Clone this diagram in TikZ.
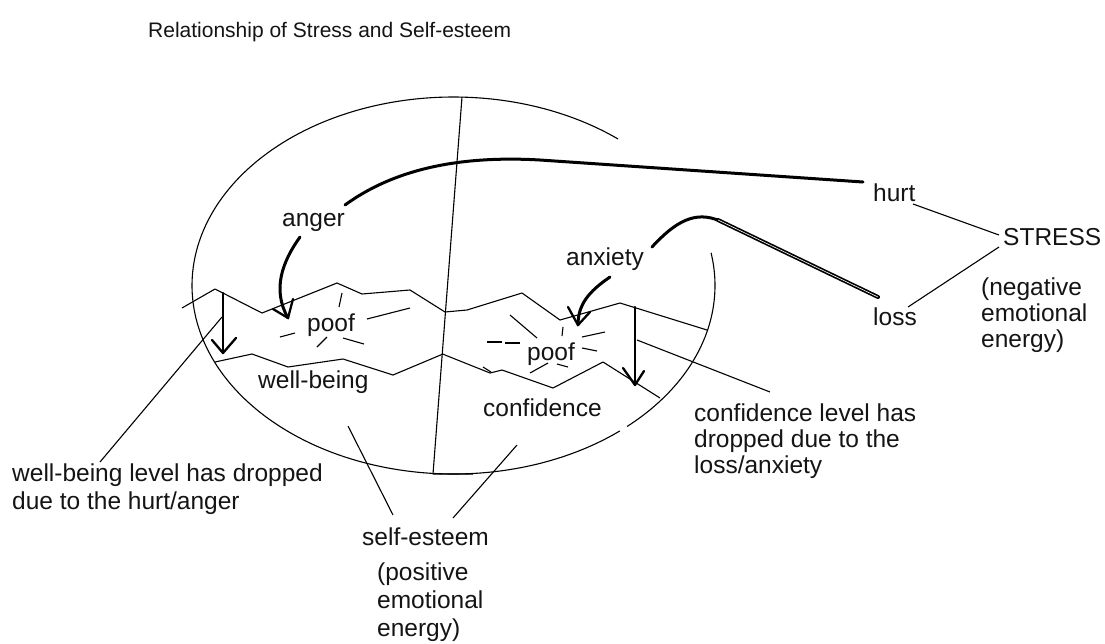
\documentclass[tikz,border=0pt]{standalone}
\usepackage{fontspec}
\setmainfont{Liberation Sans}
\begin{document}
\tikzset{
  thinline/.style={line width=1.1pt, line join=round},
  thickcurve/.style={line width=3pt, line cap=round, line join=round},
  arrowstroke/.style={line width=2.3pt, line cap=round, line join=round},
  lbl/.style={anchor=base west, inner sep=0pt, text=black!92, font=\fontsize{24.5}{26}\selectfont},
}
\begin{tikzpicture}[x=1pt,y=-1pt]
\useasboundingbox (0,0) rectangle (1105,643);

% ---------- labels ----------
\node[lbl, font=\fontsize{21}{24}\selectfont] (title) at (148,37) {Relationship of Stress and Self-esteem};
\node[lbl] (anger) at (282,226) {anger};
\node[lbl] (hurt) at (873,201) {hurt};
\node[lbl] (stress) at (1003,245) {STRESS};
\node[lbl] (neg1) at (981,295) {(negative};
\node[lbl] (neg2) at (981,321) {emotional};
\node[lbl] (neg3) at (981,347) {energy)};
\node[lbl] (loss) at (873,325) {loss};
\node[lbl] (anxiety) at (566,265) {anxiety};
\node[lbl] (poofL) at (307,331) {poof};
\node[lbl] (poofR) at (527,360) {poof};
\node[lbl] (wellbeing) at (258,388) {well-being};
\node[lbl] (confidence) at (483,416) {confidence};
\node[lbl] (conf1) at (694,421) {confidence level has};
\node[lbl] (conf2) at (694,447) {dropped due to the};
\node[lbl] (conf3) at (694,473) {loss/anxiety};
\node[lbl] (wb1) at (12,481) {well-being level has dropped};
\node[lbl] (wb2) at (12,509) {due to the hurt/anger};
\node[lbl] (selfesteem) at (362,545) {self-esteem};
\node[lbl] (pos1) at (377,580) {(positive};
\node[lbl] (pos2) at (377,608) {emotional};
\node[lbl] (pos3) at (377,636) {energy)};

% ---------- ellipse (self-esteem) with gaps ----------
\draw[thinline] plot[domain=-10:48.4, samples=60, smooth] ({453.5+261.5*cos(\x)},{285.5+188.5*sin(\x)});
\draw[thinline] plot[domain=50.5:309, samples=200, smooth] ({453.5+261.5*cos(\x)},{285.5+188.5*sin(\x)});

% divider
\coordinate (divTop) at (462,97);
\coordinate (divBot) at (433,474);
\draw[thinline] (divTop) -- (divBot) -- (473,474);

% upper jagged line
\draw[thinline] (182,308) -- (215,289) -- (262,313) -- (337,283) -- (362,294) -- (410,290)
  -- (445,312) -- (467,310) -- (522,293) -- (560,320) -- (620,303) -- (707,330);
% lower jagged line
\draw[thinline] (215,362) -- (252,354) -- (288,367) -- (343,359) -- (393,375) -- (443,354)
  -- (445,355) -- (490,373) -- (502,370) -- (553,388) -- (603,362) -- (660,398);
\draw[thinline] (483,367) -- (491,372);

% poof rays left
\draw[thinline] (342,293) -- (339,307);
\draw[thinline] (367,319) -- (410,308);
\draw[thinline] (280,337) -- (295,333);
\draw[thinline] (317,347) -- (327,337);
\draw[thinline] (343,338) -- (364,344);
% poof rays right
\draw[thinline] (510,315) -- (537,338);
\draw[thinline] (563,327) -- (562,336);
\draw[thinline] (582,337) -- (605,332);
\draw[thinline] (487,342) -- (502,342);
\draw[thinline] (505,343) -- (520,343);
\draw[thinline] (582,348) -- (597,351);
\draw[thinline] (548,363) -- (530,373);
\draw[thinline] (557,364) -- (568,367);

% ---------- drop arrows ----------
\coordinate (dropLtop) at (223,293);
\coordinate (dropLtip) at (223,353);
\draw[arrowstroke] (dropLtop) -- (dropLtip);
\draw[arrowstroke] (212,340) -- (dropLtip) -- (236,338);
\coordinate (dropRtop) at (635,307);
\coordinate (dropRtip) at (635,385);
\draw[arrowstroke] (dropRtop) -- (dropRtip);
\draw[arrowstroke] (623,368) -- (dropRtip) -- (644,371);

% ---------- pointers ----------
\coordinate (wbP) at (222,317);
\coordinate (wbEnd) at (100,462);
\draw[thinline] (wbP) -- (wbEnd);
\coordinate (cfP) at (637,340);
\coordinate (cfEnd) at (770,392);
\draw[thinline] (cfP) -- (cfEnd);
\coordinate (seL) at (348,426);
\coordinate (seLend) at (393,515);
\draw[thinline] (seL) -- (seLend);
\coordinate (seR) at (517,445);
\coordinate (seRend) at (453,518);
\draw[thinline] (seR) -- (seRend);
\coordinate (hurtS) at (913,204);
\coordinate (stressA) at (999,235);
\draw[thinline] (hurtS) -- (stressA);
\coordinate (lossS) at (908,307);
\coordinate (stressB) at (999,247);
\draw[thinline] (lossS) -- (stressB);

% ---------- hurt -> anger ----------
\coordinate (hurtEnd) at (863,182);
\coordinate (angerTop) at (345,205);
\draw[thickcurve] (hurtEnd) -- (540,160) .. controls (470,156) and (400,165) .. (angerTop);

% anger -> poof arrow
\coordinate (angerBot) at (300,237);
\coordinate (angerTip) at (288,318);
\draw[thickcurve] (angerBot) .. controls (282,262) and (272,290) .. (angerTip);
\draw[arrowstroke] (273,309) -- (angerTip) -- (293,299);

% ---------- loss -> anxiety ----------
\coordinate (anxTop) at (652,247);
\coordinate (lossEnd) at (878,297);
\draw[thickcurve] (anxTop) .. controls (675,222) and (695,210) .. (720,221);
\draw[line width=1.7pt, double=white, double distance=0.6pt, line cap=round] (718,220) -- (lossEnd);

% anxiety -> poof arrow
\coordinate (anxBot) at (610,277);
\coordinate (anxTip) at (578,325);
\draw[thickcurve] (anxBot) .. controls (588,292) and (578,305) .. (anxTip);
\draw[arrowstroke] (568,307) -- (anxTip) -- (590,312);

\end{tikzpicture}
\end{document}
